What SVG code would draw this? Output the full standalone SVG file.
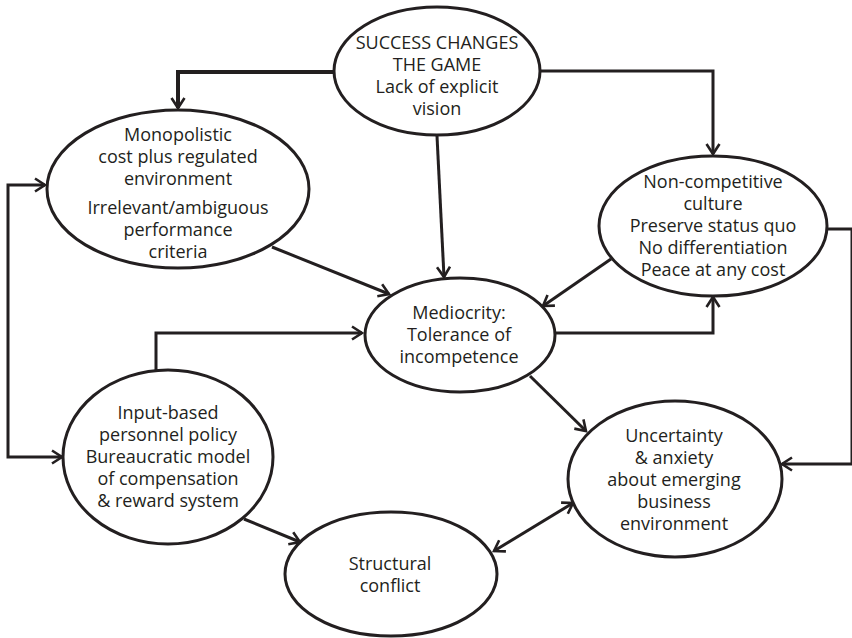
<svg xmlns="http://www.w3.org/2000/svg" width="852" height="638" viewBox="0 0 852 638">
<style>
.n{fill:#fff;stroke:#231f20;stroke-width:3}
.t{font-family:"Open Sans","Liberation Sans",sans-serif;font-size:18px;fill:#231f20;text-anchor:middle}
.c{fill:none;stroke:#231f20;stroke-width:3}
</style>
<defs>
<marker id="ah" markerUnits="userSpaceOnUse" markerWidth="20" markerHeight="20" viewBox="-14 -10 18 20" refX="0" refY="0" orient="auto-start-reverse">
<path d="M-10,-6.5 L0,0 L-10,6.5" fill="none" stroke="#231f20" stroke-width="2.6"/>
</marker>
</defs>
<rect width="852" height="638" fill="#fff"/>
<g id="connectors">
<path class="c" style="stroke-width:4" d="M334,72 H178 V108" marker-end="url(#ah)"/>
<path class="c" d="M540,71 H713 V154" marker-end="url(#ah)"/>
<path class="c" d="M437,136 L444,277" marker-end="url(#ah)"/>
<path class="c" d="M272,247 L389,294" marker-end="url(#ah)"/>
<path class="c" d="M611,259 L543,306" marker-end="url(#ah)"/>
<path class="c" d="M555,333 H713 V297" marker-end="url(#ah)"/>
<path class="c" d="M156,370 V333 H362" marker-end="url(#ah)"/>
<path class="c" d="M45,185 H8 V457 H62" marker-start="url(#ah)" marker-end="url(#ah)"/>
<path class="c" d="M244,519 L300,542" marker-end="url(#ah)"/>
<path class="c" d="M494,551 L573,503" marker-start="url(#ah)" marker-end="url(#ah)"/>
<path class="c" d="M530,376 L586,431" marker-end="url(#ah)"/>
<path class="c" d="M827,229 H852 V464 H782" marker-end="url(#ah)"/>
</g>
<g id="success">
<ellipse class="n" cx="437" cy="71" rx="103" ry="64"/>
<text class="t" x="437" y="49">SUCCESS CHANGES</text>
<text class="t" x="437" y="71">THE GAME</text>
<text class="t" x="437" y="93">Lack of explicit</text>
<text class="t" x="437" y="115">vision</text>
</g>
<g id="monopolistic">
<ellipse class="n" cx="178" cy="189" rx="131" ry="79"/>
<text class="t" x="178" y="141">Monopolistic</text>
<text class="t" x="178" y="163">cost plus regulated</text>
<text class="t" x="178" y="185">environment</text>
<text class="t" x="178" y="214">Irrelevant/ambiguous</text>
<text class="t" x="178" y="236">performance</text>
<text class="t" x="178" y="258">criteria</text>
</g>
<g id="noncompetitive">
<ellipse class="n" cx="713" cy="226" rx="114" ry="70"/>
<text class="t" x="713" y="188">Non-competitive</text>
<text class="t" x="713" y="210">culture</text>
<text class="t" x="713" y="232">Preserve status quo</text>
<text class="t" x="713" y="254">No differentiation</text>
<text class="t" x="713" y="276">Peace at any cost</text>
</g>
<g id="mediocrity">
<ellipse class="n" cx="460" cy="335" rx="95" ry="57"/>
<text class="t" x="459" y="319">Mediocrity:</text>
<text class="t" x="459" y="341">Tolerance of</text>
<text class="t" x="459" y="363">incompetence</text>
</g>
<g id="inputbased">
<ellipse class="n" cx="168" cy="457" rx="105" ry="87"/>
<text class="t" x="168" y="419">Input-based</text>
<text class="t" x="168" y="441">personnel policy</text>
<text class="t" x="168" y="463">Bureaucratic model</text>
<text class="t" x="168" y="485">of compensation</text>
<text class="t" x="168" y="507">&amp; reward system</text>
</g>
<g id="uncertainty">
<ellipse class="n" cx="675" cy="479" rx="107" ry="78"/>
<text class="t" x="674" y="442">Uncertainty</text>
<text class="t" x="674" y="464">&amp; anxiety</text>
<text class="t" x="674" y="486">about emerging</text>
<text class="t" x="674" y="508">business</text>
<text class="t" x="674" y="530">environment</text>
</g>
<g id="structural">
<ellipse class="n" cx="391" cy="574" rx="106" ry="62"/>
<text class="t" x="390" y="570">Structural</text>
<text class="t" x="390" y="592">conflict</text>
</g>
</svg>
